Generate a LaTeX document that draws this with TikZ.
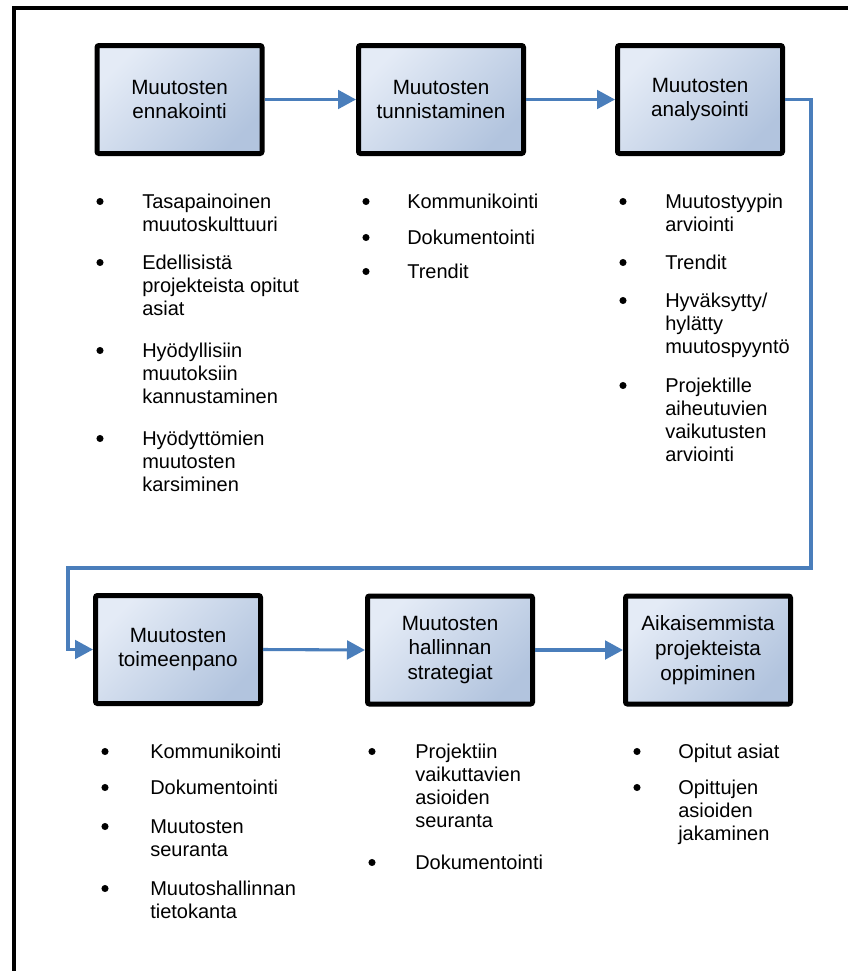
\documentclass[tikz,border=0pt]{standalone}
\usepackage{fontspec}
\setmainfont{Liberation Sans}
\usetikzlibrary{arrows.meta,backgrounds,calc}

\definecolor{flow}{HTML}{4A7EBB}
\definecolor{boxlight}{HTML}{E4EBF6}
\definecolor{boxdark}{HTML}{B2C4DE}
\definecolor{shadowfill}{HTML}{DCE5F1}
\definecolor{shadowedge}{HTML}{CCD8EA}

% bullet point: dot + text block whose first baseline sits at the given y
\newcommand\bitem[5]{%
  \node[dotmark] (#1d) at (#2,{#4-6.5}) {};
  \node[itemtext, anchor=base west] (#1) at (#3,#4)
    {\begin{tabular}[t]{@{}l@{}}#5\end{tabular}};}

% soft offset shadow behind a stage box
\newcommand\stageshadow[1]{%
  \filldraw[shadowfill, draw=shadowedge, line width=0.6pt]
    ($(#1.north west)+(12,11)$) rectangle ($(#1.south east)+(12,11)$);}

\begin{document}
\begin{tikzpicture}[x=0.75pt, y=-0.75pt,
  stage/.style={draw=black, line width=3.75pt, rounded corners=1.5pt,
    minimum width=123.75pt, minimum height=81pt, inner sep=0pt,
    align=center, font=\fontsize{15.5}{18.5}\selectfont,
    top color=boxlight, bottom color=boxdark, shading angle=45},
  conn/.style={draw=flow, line width=2.3pt,
    -{Triangle[length=13.5pt, width=14pt]}},
  dotmark/.style={circle, fill=black, inner sep=0pt, minimum size=5.3pt},
  itemtext/.style={inner sep=0pt, font=\fontsize{15}{17.25}\selectfont},
  frame/.style={draw=black, line width=2.7pt}]

\useasboundingbox (0,0) rectangle (848,971);
\clip (0,0) rectangle (848,971);
\fill[white] (0,0) rectangle (848,971);

% outer frame (only its top and left sides fall on the page)
\draw[frame] (14,1000) -- (14,8) -- (880,8);

% stages of change management
\node[stage] (b1) at (179.5,99.5) {Muutosten\\ennakointi};
\node[stage] (b2) at (441,99.5) {Muutosten\\tunnistaminen};
\node[stage] (b3) at (700,99.5) {Muutosten\\analysointi};
\node[stage] (b4) at (178,649.5) {Muutosten\\toimeenpano};
\node[stage] (b5) at (450,650) {Muutosten\\hallinnan\\strategiat};
\node[stage] (b6) at (708,650) {Aikaisemmista\\projekteista\\oppiminen};

\begin{scope}[on background layer]
  \stageshadow{b1}\stageshadow{b2}\stageshadow{b3}
  \stageshadow{b4}\stageshadow{b5}\stageshadow{b6}
\end{scope}

% flow between stages
\coordinate (turnR) at (811,568);
\coordinate (turnL) at (68,568);
\draw[conn] (b1.east) -- (b2.west);
\draw[conn] (b2.east) -- (b3.west);
\draw[conn] (b3.east) -| (turnR) -- (turnL) |- (b4.west);
\draw[conn] (b4.east) -- (b5.west);
\draw[conn] (b5.east) -- (b6.west);

% bullet lists, upper row
\bitem{a1}{100}{142}{208}{Tasapainoinen\\muutoskulttuuri}
\bitem{a2}{100}{142}{269}{Edellisistä\\projekteista opitut\\asiat}
\bitem{a3}{100}{142}{357}{Hyödyllisiin\\muutoksiin\\kannustaminen}
\bitem{a4}{100}{142}{445}{Hyödyttömien\\muutosten\\karsiminen}

\bitem{c1}{366}{407}{208}{Kommunikointi}
\bitem{c2}{366}{407}{244}{Dokumentointi}
\bitem{c3}{366}{407}{278}{Trendit}

\bitem{e1}{623}{665}{208}{Muutostyypin\\arviointi}
\bitem{e2}{623}{665}{269}{Trendit}
\bitem{e3}{623}{665}{307}{Hyväksytty/\\hylätty\\muutospyyntö}
\bitem{e4}{623}{665}{392}{Projektille\\aiheutuvien\\vaikutusten\\arviointi}

% bullet lists, lower row
\bitem{g1}{105}{150}{758}{Kommunikointi}
\bitem{g2}{105}{150}{794}{Dokumentointi}
\bitem{g3}{105}{150}{833}{Muutosten\\seuranta}
\bitem{g4}{105}{150}{895}{Muutoshallinnan\\tietokanta}

\bitem{h1}{372}{415}{758}{Projektiin\\vaikuttavien\\asioiden\\seuranta}
\bitem{h2}{372}{415}{869}{Dokumentointi}

\bitem{k1}{637}{678}{758}{Opitut asiat}
\bitem{k2}{637}{678}{794}{Opittujen\\asioiden\\jakaminen}

\end{tikzpicture}
\end{document}
